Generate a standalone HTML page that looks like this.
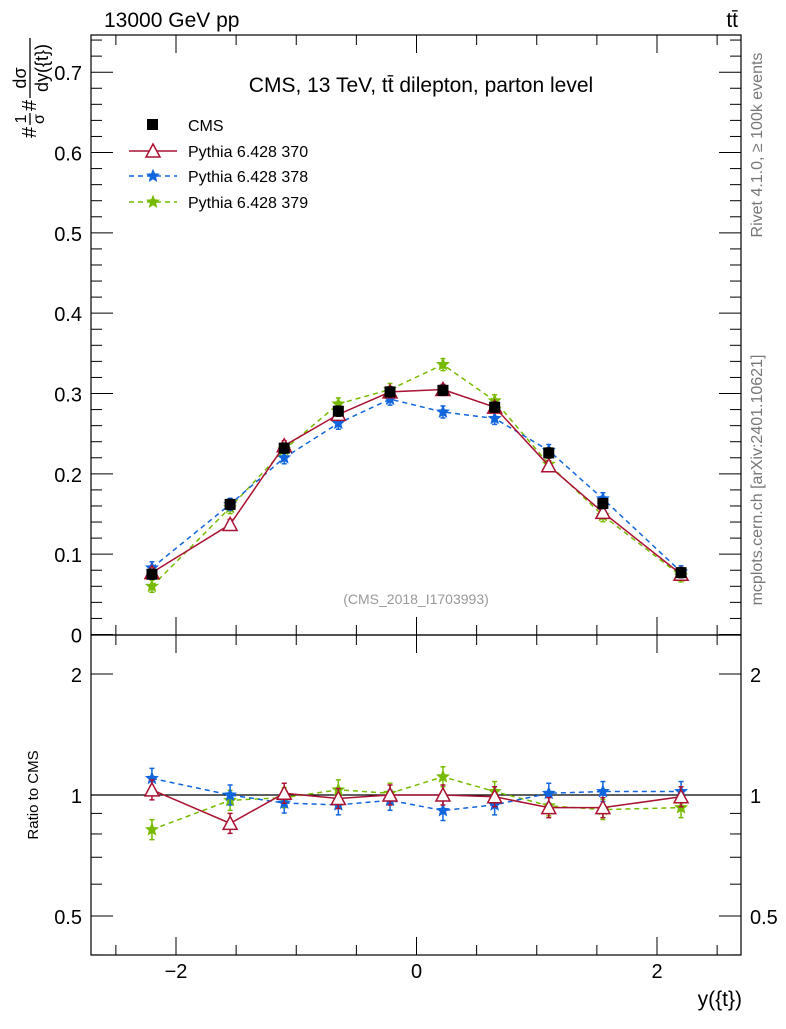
<!DOCTYPE html>
<html><head><meta charset="utf-8"><style>
body{margin:0;background:#fff;}
svg text{font-family:"Liberation Sans",sans-serif;}
</style></head><body>
<svg id="c" width="786" height="1024" xmlns="http://www.w3.org/2000/svg"></svg>
<script>
const xCenters=[-2.2,-1.55,-1.1,-0.65,-0.22,0.22,0.65,1.1,1.55,2.2];
const cmsVals=[0.075,0.162,0.232,0.278,0.302,0.304,0.283,0.226,0.163,0.077];
const p370=[0.077,0.137,0.235,0.274,0.302,0.305,0.283,0.210,0.152,0.075];
const p378=[0.083,0.162,0.220,0.263,0.293,0.277,0.269,0.229,0.169,0.078];
const p379=[0.060,0.158,0.230,0.287,0.305,0.336,0.291,0.212,0.148,0.073];
const r370=[1.03,0.85,1.01,0.98,1.0,1.0,0.99,0.93,0.93,0.99];
const r378=[1.10,1.0,0.955,0.945,0.97,0.915,0.945,1.01,1.02,1.02];
const r379=[0.82,0.97,0.985,1.03,1.01,1.11,1.02,0.94,0.92,0.93];
const mainTicks=[0,0.1,0.2,0.3,0.4,0.5,0.6,0.7];
const ratioTicks=[0.5,1,2];
const xTicks=[-2,0,2];

const S=document.getElementById('c');const NS='http://www.w3.org/2000/svg';
function el(t,a,p){const e=document.createElementNS(NS,t);for(const k in a)e.setAttribute(k,a[k]);(p||S).appendChild(e);return e;}
const L=91,R=741,T=35,M=635,B=955;
const X=v=>416.5+v*120.25;
const Y=v=>634.5-v*803.3;
const YR=v=>795-Math.log2(v)*121;

let f=el('rect',{x:L,y:T,width:R-L,height:M-T,fill:'none',stroke:'#000','stroke-width':1.2});

f=el('rect',{x:L,y:M,width:R-L,height:B-M,fill:'none',stroke:'#000','stroke-width':1.2});


for(let v=-2.5;v<=2.51;v+=0.5){const big=Math.abs(v%2)<1e-6;const len=big?18:10;
 for(const [y0,y1] of [[T,M],[M,B]]){el('line',{x1:X(v),x2:X(v),y1:y0,y2:y0+len,stroke:'#000'});el('line',{x1:X(v),x2:X(v),y1:y1,y2:y1-len,stroke:'#000'});}}
xTicks.forEach(v=>{const t=el('text',{x:X(v),y:978,'font-size':20,'text-anchor':'middle'});t.textContent=v==0?'0':(v<0?'−'+(-v):v);
 });
for(let v=0;v<=0.745;v+=0.02){const big=Math.abs(Math.round(v*100)%10)<1e-6;const len=big?22:11;const y=Y(v);
 el('line',{x1:L,x2:L+len,y1:y,y2:y,stroke:'#000'});el('line',{x1:R,x2:R-len,y1:y,y2:y,stroke:'#000'});}
mainTicks.forEach(v=>{const t=el('text',{x:82,y:Y(v)+8,'font-size':20,'text-anchor':'end'});t.textContent=v==0?'0':v.toFixed(1);
 });
[0.4,0.5,0.6,0.7,0.8,0.9,1,2].forEach(v=>{const big=ratioTicks.includes(v);const len=big?22:11;const y=YR(v);
 el('line',{x1:L,x2:L+len,y1:y,y2:y,stroke:'#000'});el('line',{x1:R,x2:R-len,y1:y,y2:y,stroke:'#000'});});
ratioTicks.forEach(v=>{for(const [x,a] of [[82,'end'],[750,'start']]){const t=el('text',{x:x,y:YR(v)+8,'font-size':20,'text-anchor':a});t.textContent=String(v);
 }});
el('line',{x1:L,x2:R,y1:YR(1),y2:YR(1),stroke:'#000','stroke-width':1.2});

function star(cx,cy,r,col,par){let p='';for(let i=0;i<10;i++){const a=-Math.PI/2+i*Math.PI/5;const rr=i%2?r*0.45:r;p+=(i?'L':'M')+(cx+rr*Math.cos(a)).toFixed(1)+' '+(cy+rr*Math.sin(a)).toFixed(1);}
 return el('path',{d:p+'Z',fill:col,stroke:col},par);}
function tri(cx,cy,col,par){return el('path',{d:`M${cx} ${cy-7}L${cx+7} ${cy+6}L${cx-7} ${cy+6}Z`,fill:'#fff',stroke:col,'stroke-width':1.5},par);}
function series(vals,fy,col,dash,marker,name,err){
 const g=el('g',{});
 if(marker!='sq'){el('polyline',{points:xCenters.map((x,i)=>X(x)+','+fy(vals[i])).join(' '),fill:'none',stroke:col,'stroke-width':1.5,'stroke-dasharray':dash},g);}
 xCenters.forEach((x,i)=>{const cx=X(x),cy=fy(vals[i]);
  el('line',{x1:cx,x2:cx,y1:cy-err,y2:cy+err,stroke:col,'stroke-width':1.5},g);
  el('line',{x1:cx-2.5,x2:cx+2.5,y1:cy-err,y2:cy-err,stroke:col,'stroke-width':1.5},g);
  el('line',{x1:cx-2.5,x2:cx+2.5,y1:cy+err,y2:cy+err,stroke:col,'stroke-width':1.5},g);
  if(marker=='sq')el('rect',{x:cx-5.5,y:cy-5.5,width:11,height:11,fill:'#000'},g);
  else if(marker=='tri')tri(cx,cy,col,g);else star(cx,cy,6,col,g);});}
series(p379,Y,'#77bb00','5,4','star','series-pythia-379',6);
series(p378,Y,'#1166dd','5,4','star','series-pythia-378',6);
series(p370,Y,'#aa1133','','tri','series-pythia-370',5);
series(cmsVals,Y,'#000','','sq','series-cms',5);
series(r379,YR,'#77bb00','5,4','star','ratio-pythia-379',10);
series(r378,YR,'#1166dd','5,4','star','ratio-pythia-378',10);
series(r370,YR,'#aa1133','','tri','ratio-pythia-370',10);

function txt(x,y,s,size,name,extra,par){const t=el('text',Object.assign({x:x,y:y,'font-size':size},extra||{}),par);t.textContent=s;
 return t;}
txt(104,27,'13000 GeV pp',21,'header-energy');
txt(738,27,'tt̄',21,'header-process',{'text-anchor':'end'});
txt(421,92,'CMS, 13 TeV, tt̄ dilepton, parton level',21,'plot-title',{'text-anchor':'middle'});
txt(416,604,'(CMS_2018_I1703993)',14,'analysis-id',{'text-anchor':'middle',fill:'#999'});
txt(742,1006,'y({t})',21,'x-axis-title',{'text-anchor':'end'});
txt(38,795,'Ratio to CMS',15,'ratio-y-axis-title',{'text-anchor':'middle',transform:'rotate(-90 38 795)'});
// y-axis title as rotated fraction
const yt=el('g',{transform:'translate(0,0) rotate(-90 0 0)'});
txt(-138,36,'#',20,'y-title-hash1',{},yt);
txt(-119,26,'1',16,'y-title-num1',{'text-anchor':'middle'},yt);
el('line',{x1:-125,x2:-113,y1:30,y2:30,stroke:'#000','stroke-width':1.3},yt);
txt(-119,44,'σ',16,'y-title-den1',{'text-anchor':'middle'},yt);
txt(-111,36,'#',20,'y-title-hash2',{},yt);
txt(-78,26,'dσ',18,'y-title-num2',{'text-anchor':'middle'},yt);
el('line',{x1:-98,x2:-38,y1:30,y2:30,stroke:'#000','stroke-width':1.3},yt);
txt(-68,48,'dy({t})',18,'y-title-den2',{'text-anchor':'middle'},yt);
txt(762,145,'Rivet 4.1.0, ≥ 100k events',16,'rivet-label',{'text-anchor':'middle',fill:'#777',transform:'rotate(-90 762 145)'});
txt(762,480,'mcplots.cern.ch [arXiv:2401.10621]',16,'mcplots-label',{'text-anchor':'middle',fill:'#777',transform:'rotate(-90 762 480)'});

const lg=el('g',{});
el('rect',{x:147,y:119,width:11,height:11,fill:'#000'},lg);txt(188,131,'CMS',16,'legend-entry-cms');
el('line',{x1:129,x2:177,y1:151,y2:151,stroke:'#aa1133','stroke-width':1.5},lg);tri(153,151,'#aa1133',lg);txt(188,157,'Pythia 6.428 370',16,'legend-entry-370');
el('line',{x1:129,x2:177,y1:176,y2:176,stroke:'#1166dd','stroke-width':1.5,'stroke-dasharray':'5,4'},lg);star(153,176,6,'#1166dd',lg);txt(188,182,'Pythia 6.428 378',16,'legend-entry-378');
el('line',{x1:129,x2:177,y1:202,y2:202,stroke:'#77bb00','stroke-width':1.5,'stroke-dasharray':'5,4'},lg);star(153,202,6,'#77bb00',lg);txt(188,208,'Pythia 6.428 379',16,'legend-entry-379');
</script>
</body></html>
